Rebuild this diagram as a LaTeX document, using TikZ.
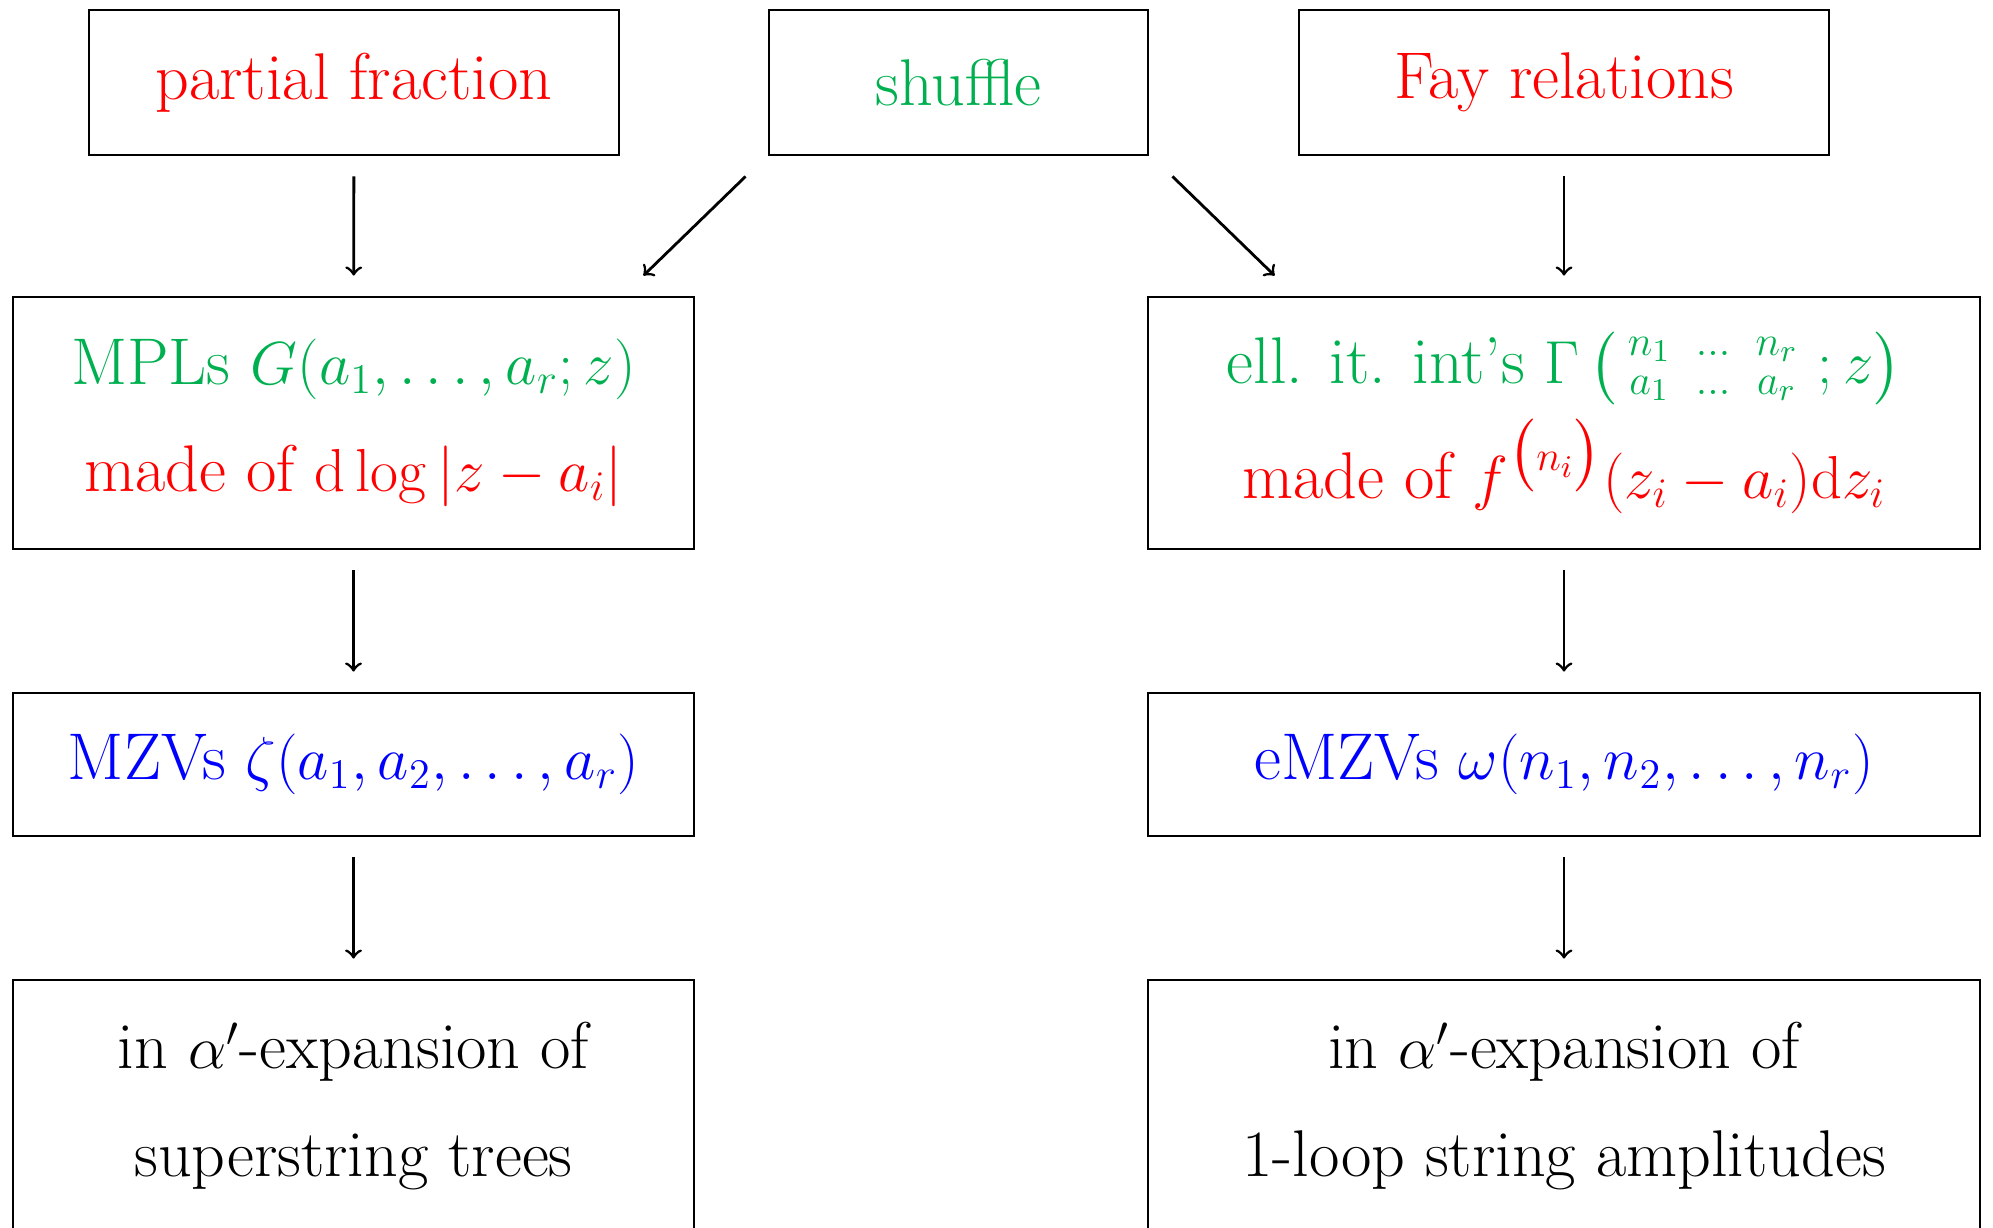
\documentclass[tikz,border=0pt]{standalone}
\usepackage{amsmath}
\definecolor{fgreen}{RGB}{0,176,80}
\begin{document}
\begin{tikzpicture}[
    box/.style={draw,thick,inner sep=0pt,align=center,font=\fontsize{18.8}{23.5}\selectfont},
    narrow/.style={box,minimum width=5.30cm,minimum height=1.45cm},
    wide/.style={box,minimum width=6.81cm,minimum height=2.52cm},
    wider/.style={box,minimum width=8.32cm,minimum height=2.52cm},
    arr/.style={->,thick,shorten >=0.2cm,shorten <=0.2cm}]
  \useasboundingbox (0,0) rectangle (19.93,-12.28);

  % top row
  \node[narrow,text=red] (pf) at (3.54,-0.825) {partial fraction};
  \node[box,minimum width=3.79cm,minimum height=1.45cm,text=fgreen] (shuffle) at (9.585,-0.825) {shuffle};
  \node[narrow,text=red] (fay) at (15.64,-0.825) {Fay relations};

  % iterated integrals
  \node[wide] (mpl) at (3.535,-4.23)
    {\textcolor{fgreen}{MPLs $G(a_1,\ldots,a_r;z)$}\\[7pt]
     \textcolor{red}{made of $\mathrm{d}\log|z-a_i|$}};
  \node[wider] (ell) at (15.64,-4.23)
    {\textcolor{fgreen}{ell. it. int's $\Gamma\,\big(\begin{smallmatrix} n_1 &\,\ldots\,& n_r\\[2pt] a_1 &\,\ldots\,& a_r\end{smallmatrix}\,;z\big)$}\\[3pt]
     \textcolor{red}{made of $f^{\big(n_i\big)}(z_i-a_i)\mathrm{d}z_i$}};

  % values
  \node[wide,minimum height=1.43cm,text=blue] (mzv) at (3.535,-7.645) {MZVs $\zeta(a_1,a_2,\ldots,a_r)$};
  \node[wider,minimum height=1.43cm,text=blue] (emzv) at (15.64,-7.645) {eMZVs $\omega(n_1,n_2,\ldots,n_r)$};

  % amplitudes
  \node[wide] (tree) at (3.535,-11.06) {in $\alpha'$-expansion of\\[7pt] superstring trees};
  \node[wider] (loop) at (15.64,-11.06) {in $\alpha'$-expansion of\\[7pt] 1-loop string amplitudes};

  \draw[arr] (pf) -- (mpl);
  \draw[arr] (fay) -- (ell);
  \draw[arr] (mpl) -- (mzv);
  \draw[arr] (ell) -- (emzv);
  \draw[arr] (mzv) -- (tree);
  \draw[arr] (emzv) -- (loop);
  \draw[->,thick] ([xshift=-0.22cm,yshift=-0.2cm]shuffle.south west) -- ([xshift=-0.52cm,yshift=0.2cm]mpl.north east);
  \draw[->,thick] ([xshift=0.23cm,yshift=-0.2cm]shuffle.south east) -- ([xshift=1.28cm,yshift=0.2cm]ell.north west);
\end{tikzpicture}
\end{document}
